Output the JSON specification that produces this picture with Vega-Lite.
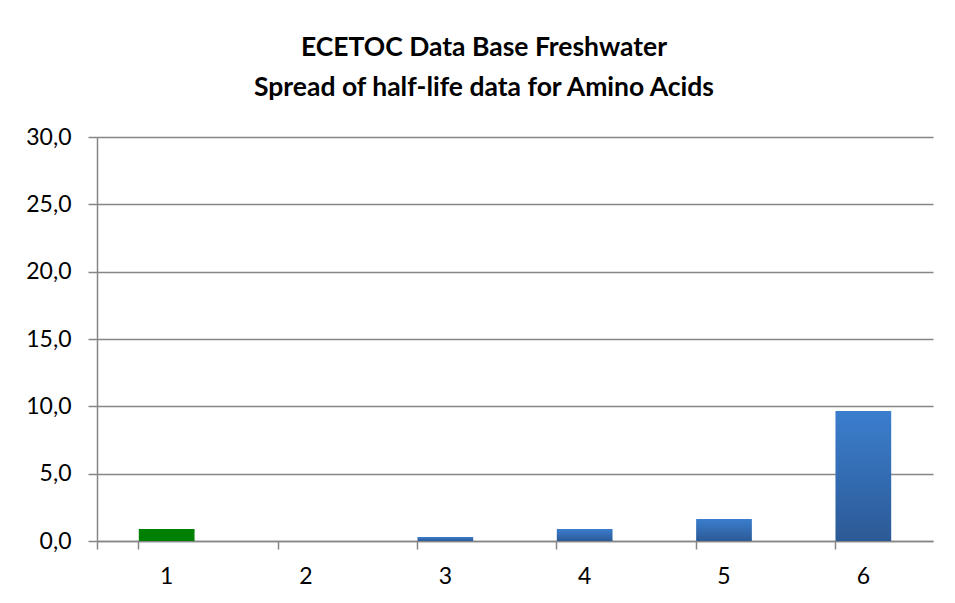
{
  "$schema": "https://vega.github.io/schema/vega-lite/v6.json",
  "autosize": "none",
  "width": 836,
  "height": 404,
  "padding": {"left": 97, "top": 137, "right": 22, "bottom": 62},
  "background": "white",
  "data": {"values": [
    {"group": "1", "value": 0.9},
    {"group": "2", "value": 0},
    {"group": "3", "value": 0.3},
    {"group": "4", "value": 0.9},
    {"group": "5", "value": 1.63},
    {"group": "6", "value": 9.65}
  ]},
  "title": {
    "text": ["ECETOC Data Base Freshwater", "Spread of half-life data for Amino Acids"],
    "font": "Lato",
    "fontSize": 26.5,
    "fontWeight": "bold",
    "color": "#000000",
    "lineHeight": 40,
    "anchor": "middle",
    "dx": -31,
    "offset": 25
  },
  "encoding": {
    "x": {
      "field": "group", "type": "ordinal", "title": null,
      "scale": {"paddingInner": 0.6, "paddingOuter": 0.3},
      "axis": {
        "labelAngle": 0, "labelFont": "Lato", "labelFontSize": 23, "labelColor": "#000000",
        "labelPadding": 16, "tickSize": 8, "tickColor": "#868686", "domainColor": "#868686",
        "bandPosition": 0, "tickExtra": true, "grid": false, "tickWidth": 1.5, "domainWidth": 1.5
      }
    },
    "y": {
      "field": "value", "type": "quantitative", "title": null,
      "scale": {"domain": [0, 30], "nice": false},
      "axis": {
        "values": [0, 5, 10, 15, 20, 25, 30], "format": ".1f",
        "labelFont": "Lato", "labelFontSize": 23, "labelColor": "#000000",
        "labelPadding": 17, "tickSize": 9, "tickColor": "#868686", "domainColor": "#868686",
        "gridColor": "#868686", "grid": true, "gridWidth": 1.5, "tickWidth": 1.5, "domainWidth": 1.5
      }
    }
  },
  "layer": [
    {
      "transform": [{"filter": "datum.group == '1'"}],
      "mark": {"type": "bar", "color": "#008000"}
    },
    {
      "transform": [{"filter": "datum.group != '1'"}],
      "mark": {"type": "bar", "color": {
        "gradient": "linear", "x1": 0, "y1": 0, "x2": 0, "y2": 1,
        "stops": [{"offset": 0, "color": "#3b7ece"}, {"offset": 1, "color": "#2c5a96"}]
      }}
    }
  ],
  "config": {
    "locale": {"number": {"decimal": ",", "thousands": ".", "grouping": [3], "currency": ["", " €"]}},
    "view": {"stroke": null}
  }
}
